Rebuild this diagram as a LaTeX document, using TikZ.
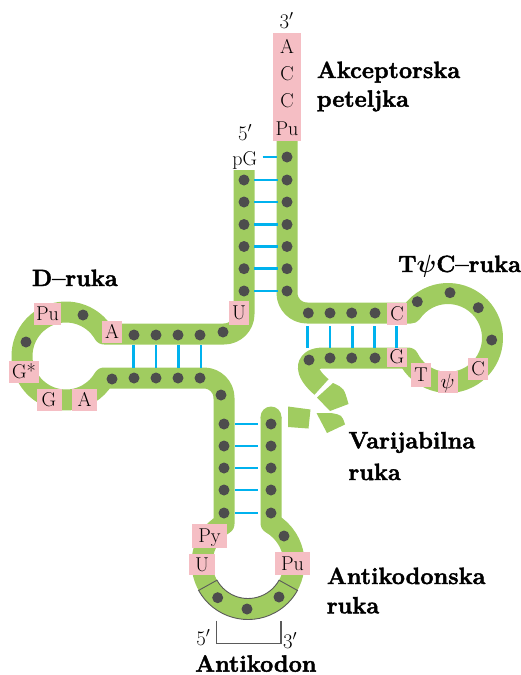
\documentclass[tikz,border=0pt]{standalone}
\usepackage{amsmath}
\usepackage{fontspec}
\newfontfamily\labfont{Latin Modern Roman}[Ligatures=TeX, BoldFeatures={FakeBold=2}]
\definecolor{greenc}{RGB}{160,204,96}
\definecolor{pinkc}{RGB}{245,190,196}
\definecolor{dotc}{RGB}{77,77,77}
\definecolor{cyanc}{RGB}{0,178,238}
\definecolor{grayc}{RGB}{90,90,90}
\begin{document}
\begin{tikzpicture}[x=1pt,y=-1pt,
  backbone/.style={draw=greenc, line width=21pt, line cap=butt, line join=round},
  pairline/.style={draw=cyanc, line width=2.6pt},
  nb/.style={fill=pinkc, inner xsep=2pt, inner ysep=0pt, minimum width=20pt, minimum height=22pt, text height=13.5pt, text depth=0pt, font=\fontsize{20}{23}\selectfont},
  lab/.style={anchor=base west, inner sep=0pt, font=\labfont\fontsize{23.5}{28}\selectfont\bfseries},
  sm/.style={anchor=base, inner sep=0pt, font=\fontsize{20}{23}\selectfont}]
\useasboundingbox (0,0) rectangle (520,675);

% ---------- backbone ----------
\draw[backbone] (244,170) -- (244,314) arc[start angle=0,end angle=90,radius=20]
  -- (104.1,334) arc[start angle=-30,end angle=-330,radius=44]
  -- (204,378) arc[start angle=-90,end angle=0,radius=20]
  -- (224,523.8) arc[start angle=238.5,end angle=-60,radius=46]
  -- (271,417);
\fill[greenc] (271,417) circle[radius=10.5];

\draw[backbone] (321.5,387) .. controls (304,372) and (303,358) .. (324,358)
  -- (408.25,358) arc[start angle=153.3,end angle=-145.8,radius=44.5]
  -- (307,313) arc[start angle=90,end angle=180,radius=20]
  -- (287,140.7);

% variable loop fragments
\fill[greenc] (317,397.5) -- (333,383) .. controls (344,388) .. (348.5,404) -- (330,411) -- cycle;
\fill[greenc] (316.5,413) -- (331,413) .. controls (342,415) .. (345,424.5) -- (327,433) -- cycle;
\fill[greenc] (288,406.5) -- (310.5,409.5) -- (308.5,428.5) -- (288,427) -- cycle;

% anticodon outline
\draw[grayc, line width=0.9pt] (279.05,580.2) arc[start angle=29,end angle=151,radius=35.5]
  -- (198.6,590.4) arc[start angle=151,end angle=29,radius=56.5] -- cycle;

% ---------- base pairs ----------
\draw[pairline] (262.7,157) -- (277,157);
\foreach \y in {180,202,224.5,246.5,268.7,291} \draw[pairline] (254,\y) -- (277.5,\y);
\foreach \x in {133.5,156,178.3,201} \draw[pairline] (\x,345) -- (\x,368);
\foreach \y in {424,446,468,490,513} \draw[pairline] (235,\y) -- (258,\y);
\foreach \x in {307.7,330,352.3,374.3,396.7} \draw[pairline] (\x,326) -- (\x,348);

% ---------- nucleotides (dots) ----------
\foreach \y in {180,202,224.5,246.5,268.7,291} \fill[dotc] (244,\y) circle[radius=5.5];
\foreach \y in {157,180,202,224.5,246.5,268.7,291} \fill[dotc] (287,\y) circle[radius=5.5];
\foreach \p in {(134,335),(156,335),(178,335),(200,335),(223,332),(83,315),(26,342),
  (112,379),(134,378),(156,378),(178,378),(200,378),(221,395)}
  \fill[dotc] \p circle[radius=5.5];
\foreach \y in {424,446,468,490,513} {\fill[dotc] (224,\y) circle[radius=5.5]; \fill[dotc] (271,\y) circle[radius=5.5];}
\foreach \p in {(284,536),(217.7,597.7),(247,609),(279,597)} \fill[dotc] \p circle[radius=5.5];
\foreach \p in {(308.3,313),(330,313),(351.7,313),(375,313),(309,360),(330,358),(351.7,358),(375,358),
  (417.3,301.7),(450,292.7),(478.3,307.7),(491.7,340)}
  \fill[dotc] \p circle[radius=5.5];

% ---------- acceptor end ----------
\fill[pinkc] (273,33) rectangle (300.7,140.7);
\node[sm] (a1) at (287,53) {A};
\node[sm] (a2) at (287,80) {C};
\node[sm] (a3) at (287,107.5) {C};
\node[sm] (a4) at (287,135) {Pu};
\node[sm] (p3) at (286.7,28.3) {$3'$};
\node[sm] (p5) at (245,140) {$5'$};
\node[sm] (pg) at (244.7,165) {pG};

% ---------- boxed nucleotides ----------
\node[nb] (dpu) at (47.5,314) {Pu};
\node[nb] (da) at (112,332) {A};
\node[nb, minimum width=30pt] (dgs) at (24,372) {G*};
\node[nb, minimum width=25pt] (dg) at (49,400) {G};
\node[nb, minimum width=25pt] (da2) at (84.5,400) {A};
\node[nb, minimum height=24pt] (du) at (239,313) {U};
\node[nb] (tc) at (397,314) {C};
\node[nb, minimum height=19pt] (tg) at (397,357) {G};
\node[nb, minimum height=24pt] (tt) at (421,375) {T};
\node[nb] (tpsi) at (447.5,382) {$\psi$};
\node[nb] (tc2) at (478,368.5) {C};
\node[nb, minimum width=35pt, minimum height=24pt] (apy) at (209.5,536) {Py};
\node[nb, minimum width=26pt, minimum height=21pt] (au) at (202,564.5) {U};
\node[nb, minimum width=35pt, minimum height=23pt] (apu) at (292.5,563.5) {Pu};

% ---------- anticodon bracket ----------
\draw[grayc, line width=1.4pt] (216.7,620.7) -- (216.7,643.3) -- (281,643.3) -- (281,620.7);
\node[sm] (b5) at (203.3,645) {$5'$};
\node[sm] (b3) at (290,648) {$3'$};

% ---------- labels ----------
\node[lab] (l1) at (316.7,78) {Akceptorska};
\node[lab] (l2) at (316.7,106.7) {peteljka};
\node[lab] (l3) at (31.7,286) {D–ruka};
\node[lab] (l4) at (398,272) {T$\boldsymbol{\psi}$C–ruka};
\node[lab] (l5) at (348.3,448.3) {Varijabilna};
\node[lab] (l6) at (348.3,480) {ruka};
\node[lab] (l7) at (326.7,584) {Antikodonska};
\node[lab] (l8) at (326.7,613.3) {ruka};
\node[lab] (l9) at (195,671.7) {Antikodon};
\end{tikzpicture}
\end{document}
